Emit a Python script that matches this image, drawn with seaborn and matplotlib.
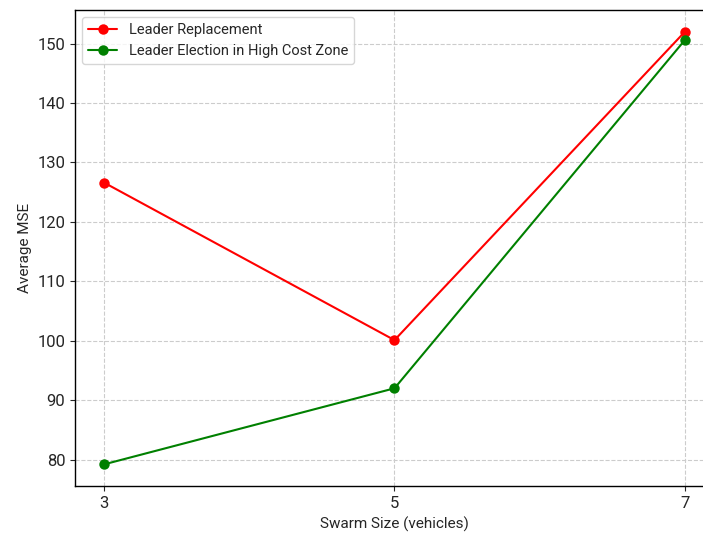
import matplotlib
matplotlib.use('Agg')
import matplotlib.pyplot as plt
import seaborn as sns
import pandas as pd

# Data
swarm_sizes = [3, 5, 7]
leader_replacement = [126.6, 100.1, 152.0]
leader_election = [79.2, 92.0, 150.6]

sns.set_style('ticks')
plt.rcParams['font.family'] = ['Roboto', 'DejaVu Sans']

df = pd.DataFrame({
    'size': swarm_sizes * 2,
    'mse': leader_replacement + leader_election,
    'method': ['Leader Replacement'] * 3 + ['Leader Election in High Cost Zone'] * 3,
})

fig = plt.figure(figsize=(7.03, 5.33), dpi=100)
# axes runs off the right edge like the cropped reference
ax = fig.add_axes([75 / 703, (533 - 486) / 533, (714 - 75) / 703, (486 - 10) / 533])

sns.lineplot(data=df, x='size', y='mse', hue='method',
             palette={'Leader Replacement': 'red', 'Leader Election in High Cost Zone': 'green'},
             marker='o', markersize=7.5, markeredgewidth=0, linewidth=1.5, ax=ax)

ax.set_xlim(2.8, 7.2)
ax.set_xticks(swarm_sizes)
ax.set_xlabel('Swarm Size (vehicles)', fontsize=11)
ax.set_ylabel('Average MSE', fontsize=11)
ax.tick_params(labelsize=12)
ax.grid(True, linestyle='--', color='#cccccc', linewidth=0.8)
for s in ax.spines.values():
    s.set_color('black')
    s.set_linewidth(1.0)

leg = ax.legend(loc='upper left', fontsize=10.5, frameon=True)
leg.get_frame().set_edgecolor('#cccccc')

fig.savefig('out.png', dpi=100)
